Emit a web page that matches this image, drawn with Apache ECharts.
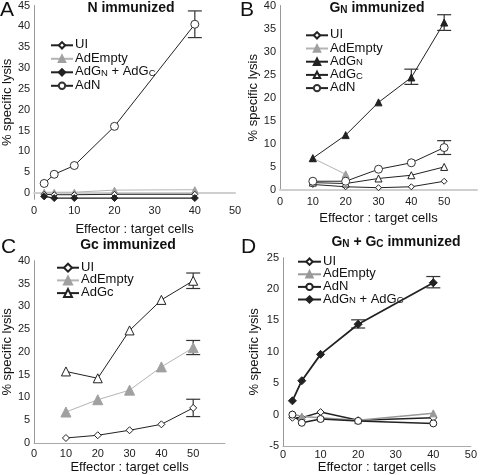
<!DOCTYPE html>
<html><head><meta charset="utf-8">
<script src="https://cdn.jsdelivr.net/npm/echarts@6/dist/echarts.min.js"></script>
<style>html,body{margin:0;padding:0;background:#fff}#c{width:480px;height:475px}</style>
</head><body><div id="c"></div>
<script>
// ---------- Panel A: N immunized ----------
const xA = [2.5, 5, 10, 20, 40];
const aUI = [-0.3, -0.4, -0.4, -0.3, -0.3];
const aAdEmpty = [0.2, 0.2, 0.2, 0.7, 0.8];
const aAdGNGC = [-0.8, -1.2, -1.2, -1.2, -1.2];
const aAdN = [2.3, 4.5, 6.6, 16.0, 40.5];
const aErr = [[40, 37.3, 43.7]];

// ---------- Panel B: GN immunized ----------
const xB = [10, 20, 30, 40, 50];
const xBEmpty = [10, 20];
const bUI = [1.2, 0.7, 0.5, 0.7, 1.9];
const bAdEmpty = [6.9, 3.4];
const bAdGN = [6.9, 11.9, 19.0, 24.4, 36.3];
const bAdGC = [1.6, 1.4, 2.5, 3.2, 5.0];
const bAdN = [1.9, 1.9, 4.5, 5.9, 9.2];
const bErr = [[40, 22.9, 26.2], [50, 34.6, 38.0], [50, 7.7, 10.7]];

// ---------- Panel C: Gc immunized ----------
const xC = [10, 20, 30, 40, 50];
const cUI = [1.1, 1.7, 2.8, 4.1, 7.7];
const cAdEmpty = [6.8, 9.5, 11.6, 16.7, 20.9];
const cAdGc = [15.7, 14.2, 24.7, 31.4, 35.6];
const cErr = [[50, 33.9, 37.3], [50, 19.4, 22.5], [50, 5.8, 9.6]];

// ---------- Panel D: GN + GC immunized ----------
const xD = [2.5, 5, 10, 20, 40];
const dUI = [-0.5, -0.5, 0.4, -0.9, -0.5];
const dAdEmpty = [0.1, -0.3, -0.5, -0.9, 0.2];
const dAdN = [0.0, -1.3, -0.7, -1.0, -1.4];
const dAdGNGC = [2.2, 5.4, 9.6, 14.4, 21.0];
const dErr = [[20, 13.8, 15.1], [40, 20.2, 22.0]];

const FONT = 'Liberation Sans, Arial, sans-serif';
const BLACK = '#222';
const GRAY_L = '#b4b4b4';
const GRAY_M = '#a0a0a0';

const zip = (xs, ys) => ys.map((y, i) => [xs[i], y]);

function errRender(params, api) {
  const x = api.value(0), lo = api.value(1), hi = api.value(2);
  const p1 = api.coord([x, hi]), p2 = api.coord([x, lo]);
  const w = 7;
  const st = {stroke: '#333', lineWidth: 1.2};
  return {type: 'group', children: [
    {type: 'line', shape: {x1: p1[0], y1: p1[1], x2: p2[0], y2: p2[1]}, style: st},
    {type: 'line', shape: {x1: p1[0] - w, y1: p1[1], x2: p1[0] + w, y2: p1[1]}, style: st},
    {type: 'line', shape: {x1: p2[0] - w, y1: p2[1], x2: p2[0] + w, y2: p2[1]}, style: st}
  ]};
}

function line(name, idx, data, opt) {
  return {
    type: 'line', name: name, xAxisIndex: idx, yAxisIndex: idx, data: data,
    symbol: opt.symbol, symbolSize: opt.size, showAllSymbol: true,
    lineStyle: {color: opt.line, width: opt.lw || 1},
    itemStyle: {color: opt.fill, borderColor: opt.border || opt.fill, borderWidth: 1},
    emphasis: {disabled: true}, animation: false, z: opt.z || 3
  };
}
function errs(idx, data) {
  return {type: 'custom', xAxisIndex: idx, yAxisIndex: idx, data: data,
    encode: {x: 0, y: [1, 2]}, renderItem: errRender, animation: false, z: 2, silent: true};
}

const rich = {
  n: {fontFamily: FONT, fontSize: 13, color: '#111', lineHeight: 12, verticalAlign: 'bottom'},
  s: {fontFamily: FONT, fontSize: 9.5, color: '#111', lineHeight: 11, verticalAlign: 'bottom'}
};
const legendText = {
  'A_UI': '{n|UI}', 'A_AdEmpty': '{n|AdEmpty}', 'A_AdGNGC': '{n|AdG}{s|N}{n| + AdG}{s|C}', 'A_AdN': '{n|AdN}',
  'B_UI': '{n|UI}', 'B_AdEmpty': '{n|AdEmpty}', 'B_AdGN': '{n|AdG}{s|N}', 'B_AdGC': '{n|AdG}{s|C}', 'B_AdN': '{n|AdN}',
  'C_UI': '{n|UI}', 'C_AdEmpty': '{n|AdEmpty}', 'C_AdGc': '{n|AdGc}',
  'D_UI': '{n|UI}', 'D_AdEmpty': '{n|AdEmpty}', 'D_AdN': '{n|AdN}', 'D_AdGNGC': '{n|AdG}{s|N}{n| + AdG}{s|C}'
};
function legend(names, left, top, iw, ih, gap) {
  return {data: names, left: left, top: top, orient: 'vertical', itemWidth: iw, itemHeight: ih,
    itemGap: gap, selectedMode: false, padding: 0,
    formatter: n => legendText[n],
    textStyle: {fontFamily: FONT, fontSize: 13, lineHeight: 12, rich: rich, padding: [0, 0, 0, -3]}};
}

function xAxis(idx, max, onZero, lineColor, lw, margin, gap) {
  return {type: 'value', gridIndex: idx, min: 0, max: max, interval: 10,
    name: 'Effector : target cells', nameLocation: 'middle', nameGap: gap,
    nameTextStyle: {fontFamily: FONT, fontSize: 13, color: '#111'},
    axisLine: {onZero: onZero, lineStyle: {color: lineColor, width: lw}},
    axisTick: {show: false}, splitLine: {show: false},
    axisLabel: {fontFamily: FONT, fontSize: 11, color: '#222', margin: margin,
      formatter: v => (v <= 50 ? String(v) : '')}};
}
function yAxis(idx, min, max, extra) {
  return Object.assign({type: 'value', gridIndex: idx, min: min, max: max,
    name: '% specific lysis', nameLocation: 'middle', nameGap: 18,
    nameTextStyle: {fontFamily: FONT, fontSize: 13, color: '#111'},
    axisLine: {show: true, onZero: false, lineStyle: {color: '#999', width: 1}},
    axisTick: {show: false}, splitLine: {show: false},
    axisLabel: {fontFamily: FONT, fontSize: 11, color: '#222', margin: 4,
      formatter: v => (Math.abs(v % 5) < 1e-9 ? String(v) : '')}}, extra);
}

const titleRich = {
  b: {fontFamily: FONT, fontSize: 14, fontWeight: 'bold', color: '#111', lineHeight: 16, verticalAlign: 'bottom'},
  s: {fontFamily: FONT, fontSize: 10, fontWeight: 'bold', color: '#111', lineHeight: 15, verticalAlign: 'bottom'}
};
function ttl(text, left, top) {
  return {text: text, left: left, top: top, padding: 0, textAlign: 'center',
    textStyle: {rich: titleRich}};
}
function letter(t, left, top) {
  return {text: t, left: left, top: top, padding: 0,
    textStyle: {fontFamily: FONT, fontSize: 21, fontWeight: 'normal', color: '#111'}};
}

const option = {
  backgroundColor: '#fff',
  title: [
    letter('A', 0, 0), letter('B', 240, 0), letter('C', 1, 237), letter('D', 241, 237),
    ttl('{b|N immunized}', 131, -1), ttl('{b|G}{s|N}{b| immunized}', 377, -1),
    ttl('{b|Gc immunized}', 128, 236), ttl('{b|G}{s|N}{b| + G}{s|C}{b| immunized}', 396, 233)
  ],
  legend: [
    legend(['A_UI', 'A_AdEmpty', 'A_AdGNGC', 'A_AdN'], 50, 38.3, 22, 8, 0.5),
    legend(['B_UI', 'B_AdEmpty', 'B_AdGN', 'B_AdGC', 'B_AdN'], 305, 28.3, 22, 8, 0.2),
    legend(['C_UI', 'C_AdEmpty', 'C_AdGc'], 56, 260.7, 22, 10, -0.3),
    legend(['D_UI', 'D_AdEmpty', 'D_AdN', 'D_AdGNGC'], 297, 254.7, 23, 8, -0.4)
  ],
  grid: [
    {left: 31, top: 4, width: 204, height: 195.3},
    {left: 280, top: 3.3, width: 200, height: 186.7},
    {left: 30, top: 260.7, width: 195, height: 183.6},
    {left: 283, top: 257.7, width: 192, height: 189}
  ],
  xAxis: [
    xAxis(0, 50, true, '#cfcfcf', 2, 6, 24),
    xAxis(1, 60, true, '#cfcfcf', 2, 6, 22),
    xAxis(2, 60, false, '#aaa', 1, 5, 18),
    xAxis(3, 50, false, '#aaa', 1, 3, 15)
  ],
  yAxis: [
    yAxis(0, -1.5, 45, {splitNumber: 9}),
    yAxis(1, 0, 40, {interval: 5}),
    yAxis(2, 0, 40, {interval: 5}),
    yAxis(3, -5, 25, {interval: 5, nameGap: 22})
  ],
  series: [
    // A
    line('A_AdEmpty', 0, zip(xA, aAdEmpty), {symbol: 'triangle', size: 6, line: GRAY_L, fill: GRAY_M}),
    line('A_UI', 0, zip(xA, aUI), {symbol: 'diamond', size: 6, line: BLACK, fill: '#fff', border: BLACK}),
    line('A_AdGNGC', 0, zip(xA, aAdGNGC), {symbol: 'diamond', size: 7, line: BLACK, fill: BLACK, lw: 1.3}),
    line('A_AdN', 0, zip(xA, aAdN), {symbol: 'circle', size: 8, line: BLACK, fill: '#fff', border: '#333', z: 4}),
    errs(0, aErr),
    // B
    line('B_UI', 1, zip(xB, bUI), {symbol: 'diamond', size: 6, line: BLACK, fill: '#fff', border: BLACK}),
    line('B_AdEmpty', 1, zip(xBEmpty, bAdEmpty), {symbol: 'triangle', size: 7, line: GRAY_L, fill: GRAY_M}),
    line('B_AdGN', 1, zip(xB, bAdGN), {symbol: 'triangle', size: 7, line: BLACK, fill: BLACK, z: 5}),
    line('B_AdGC', 1, zip(xB, bAdGC), {symbol: 'triangle', size: 7, line: BLACK, fill: '#fff', border: BLACK}),
    line('B_AdN', 1, zip(xB, bAdN), {symbol: 'circle', size: 8, line: BLACK, fill: '#fff', border: '#333', z: 4}),
    errs(1, bErr),
    // C
    line('C_UI', 2, zip(xC, cUI), {symbol: 'diamond', size: 7, line: BLACK, fill: '#fff', border: BLACK}),
    line('C_AdEmpty', 2, zip(xC, cAdEmpty), {symbol: 'triangle', size: 10, line: GRAY_L, fill: GRAY_M}),
    line('C_AdGc', 2, zip(xC, cAdGc), {symbol: 'triangle', size: 9, line: BLACK, fill: '#fff', border: BLACK}),
    errs(2, cErr),
    // D
    line('D_UI', 3, zip(xD, dUI), {symbol: 'diamond', size: 7, line: BLACK, fill: '#fff', border: BLACK, lw: 1.5}),
    line('D_AdEmpty', 3, zip(xD, dAdEmpty), {symbol: 'triangle', size: 7, line: '#999', fill: '#999', lw: 1.5}),
    line('D_AdN', 3, zip(xD, dAdN), {symbol: 'circle', size: 7, line: BLACK, fill: '#fff', border: BLACK, lw: 1.5}),
    line('D_AdGNGC', 3, zip(xD, dAdGNGC), {symbol: 'diamond', size: 8, line: BLACK, fill: BLACK, lw: 1.8, z: 5}),
    errs(3, dErr)
  ]
};

const chart = echarts.init(document.getElementById('c'), null, {renderer: 'canvas'});
chart.setOption(option);
</script>
</body></html>
